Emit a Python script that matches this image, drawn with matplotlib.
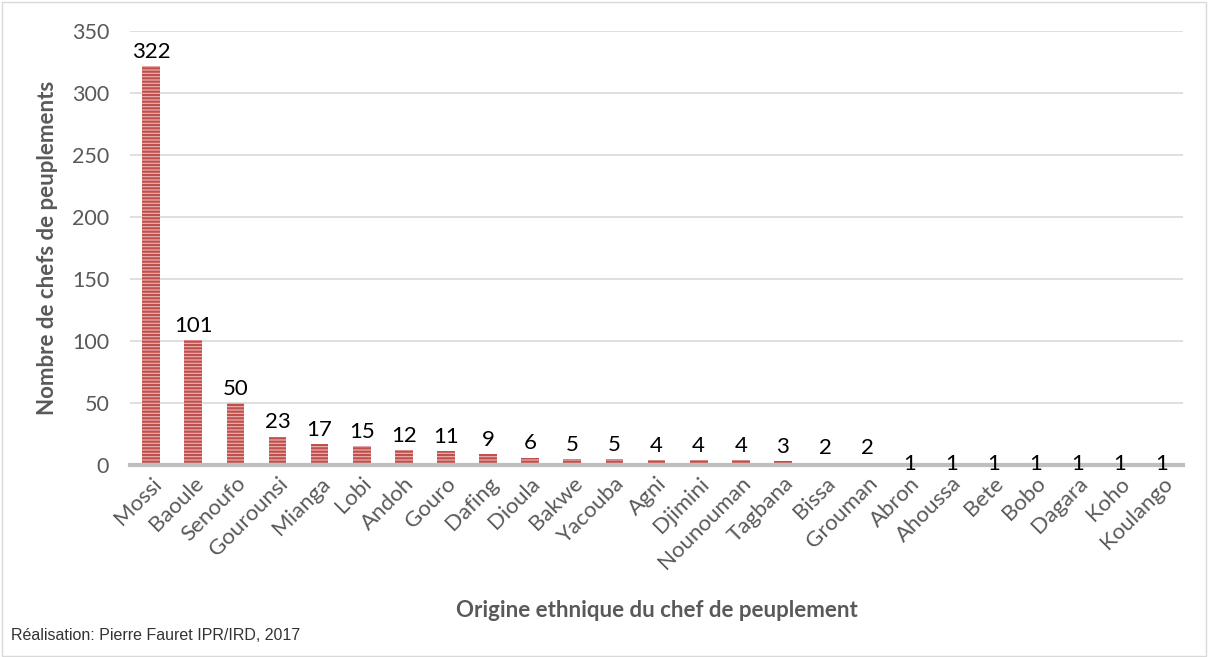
import matplotlib.pyplot as plt
from matplotlib.patches import Rectangle

ethnies = ['Mossi', 'Baoule', 'Senoufo', 'Gourounsi', 'Mianga', 'Lobi', 'Andoh',
           'Gouro', 'Dafing', 'Dioula', 'Bakwe', 'Yacouba', 'Agni', 'Djimini',
           'Nounouman', 'Tagbana', 'Bissa', 'Grouman', 'Abron', 'Ahoussa', 'Bete',
           'Bobo', 'Dagara', 'Koho', 'Koulango']
chefs = [322, 101, 50, 23, 17, 15, 12, 11, 9, 6, 5, 5, 4, 4, 4, 3, 2, 2,
         1, 1, 1, 1, 1, 1, 1]

plt.rcParams['font.family'] = ['Lato', 'DejaVu Sans']
plt.rcParams['hatch.linewidth'] = 1.6
plt.rcParams['hatch.color'] = '#c0504d'

fig = plt.figure(figsize=(12.12, 6.57), dpi=100)
ax = fig.add_axes([0.1073, 0.2922, 0.8688, 0.6606])

x = range(len(ethnies))
ax.bar(x, chefs, width=0.42, color='#ecb6b4', edgecolor='#c0504d',
       hatch='-----', linewidth=0, zorder=3)

# étiquettes de valeur
for xi, v in zip(x, chefs):
    if v > 1:
        ax.annotate(str(v), (xi, v), xytext=(0, 3), textcoords='offset points',
                    ha='center', va='bottom', fontsize=16, color='black', zorder=5)
    else:
        ax.annotate(str(v), (xi, v), xytext=(0, 0), textcoords='offset points',
                    ha='center', va='center', fontsize=16, color='black', zorder=5)

ax.set_xlim(-0.5, len(ethnies) - 0.5)
ax.set_ylim(0, 350)
ax.set_yticks(range(0, 351, 50))
ax.grid(axis='y', color='#d9d9d9', linewidth=1.2, zorder=0)
for s in ['top', 'right', 'left']:
    ax.spines[s].set_visible(False)
ax.spines['bottom'].set_color('#bfbfbf')
ax.spines['bottom'].set_linewidth(3)
ax.spines['bottom'].set_zorder(4)
ax.tick_params(axis='both', length=0, labelcolor='#595959')
ax.tick_params(axis='y', pad=15, labelsize=15.5)
ax.set_xticks(list(x))
ax.set_xticklabels(ethnies, rotation=45, ha='right', rotation_mode='anchor')
ax.tick_params(axis='x', pad=6, labelsize=16)

ax.set_ylabel('Nombre de chefs de peuplements', fontsize=16, fontweight='bold',
              color='#595959', labelpad=10)
fig.text(0.542, 0.071, 'Origine ethnique du chef de peuplement', ha='center',
         va='center', fontsize=16, fontweight='bold', color='#595959')
fig.text(0.009, 0.032, 'Réalisation: Pierre Fauret IPR/IRD, 2017', ha='left',
         va='center', fontsize=11.5, color='#333333', family='Liberation Sans')

fig.patches.append(Rectangle((0.002, 0.002), 0.993, 0.995, transform=fig.transFigure,
                             fill=False, edgecolor='#d9d9d9', linewidth=1))

fig.savefig('out.png', dpi=100)
